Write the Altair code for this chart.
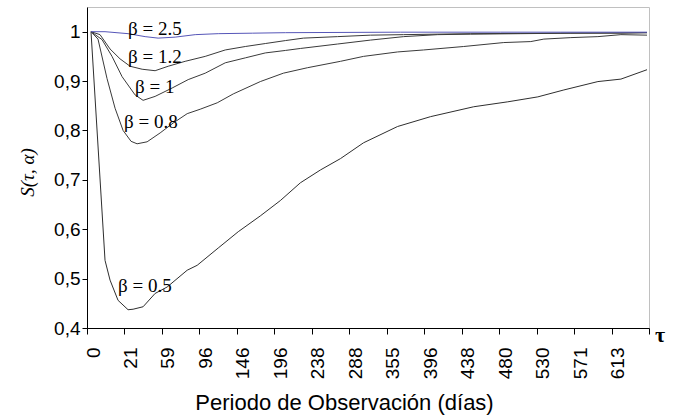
import altair as alt
import pandas as pd

# Category axis labels (days), one per tick interval
day_labels = ["0", "21", "59", "96", "146", "196", "238", "288", "355",
              "396", "438", "480", "530", "571", "613", ""]

# Series: x in category-axis units (tick intervals), y = S(tau, alpha)
b05_x = [0.107, 0.481, 0.615, 0.829, 1.096, 1.230, 1.497, 1.818, 2.139, 2.674,
         2.941, 3.503, 4.037, 4.626, 5.160, 5.695, 6.230, 6.765, 7.380, 8.289,
         9.171, 10.321, 11.230, 12.032, 12.727, 13.636, 14.251, 14.947]
b05_y = [1.0, 0.537, 0.497, 0.456, 0.437, 0.438, 0.443, 0.470, 0.483, 0.517,
         0.527, 0.562, 0.595, 0.627, 0.658, 0.694, 0.720, 0.743, 0.775, 0.808,
         0.828, 0.848, 0.858, 0.868, 0.882, 0.899, 0.904, 0.923]

b08_x = [0.107, 0.294, 0.535, 0.749, 0.963, 1.176, 1.337, 1.604, 1.952, 2.299,
         2.674, 3.021, 3.476, 3.904, 4.626, 5.241, 5.882, 6.765, 7.380, 8.289,
         8.984, 10.053, 11.123, 11.845, 12.193, 12.914, 13.636, 14.251, 14.947]
b08_y = [1.0, 0.985, 0.905, 0.845, 0.800, 0.778, 0.773, 0.777, 0.795, 0.815,
         0.834, 0.843, 0.856, 0.874, 0.899, 0.916, 0.927, 0.940, 0.950, 0.959,
         0.963, 0.970, 0.978, 0.980, 0.985, 0.988, 0.990, 0.994, 0.993]

b1_x = [0.107, 0.401, 0.668, 0.936, 1.283, 1.497, 1.818, 2.273, 2.701, 3.155,
        3.690, 4.225, 4.759, 5.294, 5.695, 6.684, 7.567, 8.449, 9.358, 10.241,
        11.578, 12.914, 14.251, 14.947]
b1_y = [1.0, 0.984, 0.950, 0.909, 0.872, 0.861, 0.869, 0.886, 0.903, 0.916,
        0.937, 0.947, 0.957, 0.962, 0.966, 0.975, 0.983, 0.990, 0.994, 0.995,
        0.996, 0.997, 0.997, 0.998]

b12_x = [0.107, 0.348, 0.615, 0.882, 1.150, 1.471, 1.818, 2.166, 2.620, 3.155,
         3.690, 4.225, 4.759, 5.294, 5.775, 6.684, 7.567, 8.449, 10.241, 12.647,
         14.947]
b12_y = [1.0, 0.994, 0.965, 0.945, 0.930, 0.924, 0.921, 0.930, 0.940, 0.950,
         0.963, 0.970, 0.976, 0.982, 0.987, 0.990, 0.993, 0.994, 0.996, 0.997,
         0.998]

b25_x = [0.107, 0.481, 1.096, 1.551, 1.898, 2.353, 2.888, 3.503, 4.412, 5.294,
         8.369, 11.043, 12.647, 14.947]
b25_y = [1.0, 1.0, 0.996, 0.990, 0.987, 0.989, 0.994, 0.996, 0.997, 0.998,
         0.999, 0.999, 0.999, 0.999]

series_names = ["β = 0.5", "β = 0.8", "β = 1", "β = 1.2", "β = 2.5"]
series_x = [b05_x, b08_x, b1_x, b12_x, b25_x]
series_y = [b05_y, b08_y, b1_y, b12_y, b25_y]
series_colors = ["#2e2e2e", "#3a3a3a", "#3a3a3a", "#3a3a3a", "#5656b8"]

# Curve labels (position in data units)
label_x = [0.829, 0.989, 1.283, 1.096, 1.096]
label_y = [0.473, 0.805, 0.876, 0.937, 0.994]

rows = []
for name, xs, ys in zip(series_names, series_x, series_y):
    for xv, yv in zip(xs, ys):
        rows.append({"serie": name, "pos": xv, "S": yv})
df = pd.DataFrame(rows)
lab = pd.DataFrame({"serie": series_names, "pos": label_x, "S": label_y})

label_expr = "[" + ",".join("'%s'" % s for s in day_labels) + "][datum.value]"

xscale = alt.Scale(domain=[0, 15], nice=False, zero=False)
yscale = alt.Scale(domain=[0.4, 1.05], nice=False, zero=False)

x_axis = alt.Axis(
    values=list(range(16)), tickCount=40, labelExpr=label_expr, labelAngle=270,
    labelOffset=6, labelPadding=13, labelFont="Liberation Sans", labelFontSize=19,
    labelColor="black", tickSize=6, tickColor="black", domainColor="black",
    grid=False, title="Periodo de Observación (días)",
    titleFont="Liberation Sans", titleFontSize=22, titleFontWeight="normal",
    titleColor="black", titleX=257, titleY=81, titleBaseline="alphabetic",
    titleAlign="center", labelOverlap=False, labelFlush=False)

y_axis = alt.Axis(
    values=[0.4, 0.5, 0.6, 0.7, 0.8, 0.9, 1.0],
    labelExpr="replace(format(datum.value, '.1~f'), '.', ',')",
    labelFont="Liberation Sans", labelFontSize=19, labelColor="black",
    labelPadding=2, tickSize=5, tickColor="black", domainColor="black",
    grid=False, title="S(τ, α)", titleFont="Liberation Serif",
    titleFontSize=19, titleFontStyle="italic", titleFontWeight="normal",
    titleColor="black", titleX=-60, titleY=165, titleAngle=270,
    titleAlign="center", titleBaseline="middle", labelFlush=False)

lines = alt.Chart(df).mark_line(strokeWidth=1).encode(
    x=alt.X("pos:Q", scale=xscale, axis=x_axis),
    y=alt.Y("S:Q", scale=yscale, axis=y_axis),
    color=alt.Color("serie:N", scale=alt.Scale(domain=series_names, range=series_colors), legend=None),
    detail="serie:N",
)

labels = alt.Chart(lab).mark_text(
    align="left", baseline="alphabetic", font="Liberation Serif",
    fontSize=19, color="black").encode(
    x=alt.X("pos:Q", scale=xscale),
    y=alt.Y("S:Q", scale=yscale),
    text="serie:N",
)

tau = alt.Chart(pd.DataFrame({"pos": [15], "S": [0.4], "t": ["τ"]})).mark_text(
    align="left", baseline="alphabetic", font="Liberation Serif",
    fontSize=22, fontWeight="bold", color="black", dx=6, dy=14).encode(
    x=alt.X("pos:Q", scale=xscale),
    y=alt.Y("S:Q", scale=yscale),
    text="t:N",
)

chart = alt.layer(lines, labels, tau).properties(
    width=562, height=321,
    autosize=alt.AutoSizeParams(type="none"),
    padding={"left": 87, "top": 7, "right": 29, "bottom": 89},
    background="white",
).configure_view(stroke="#c0c0c0", strokeWidth=1)

chart.save("out.html", embed_options={"renderer": "svg", "actions": False})
